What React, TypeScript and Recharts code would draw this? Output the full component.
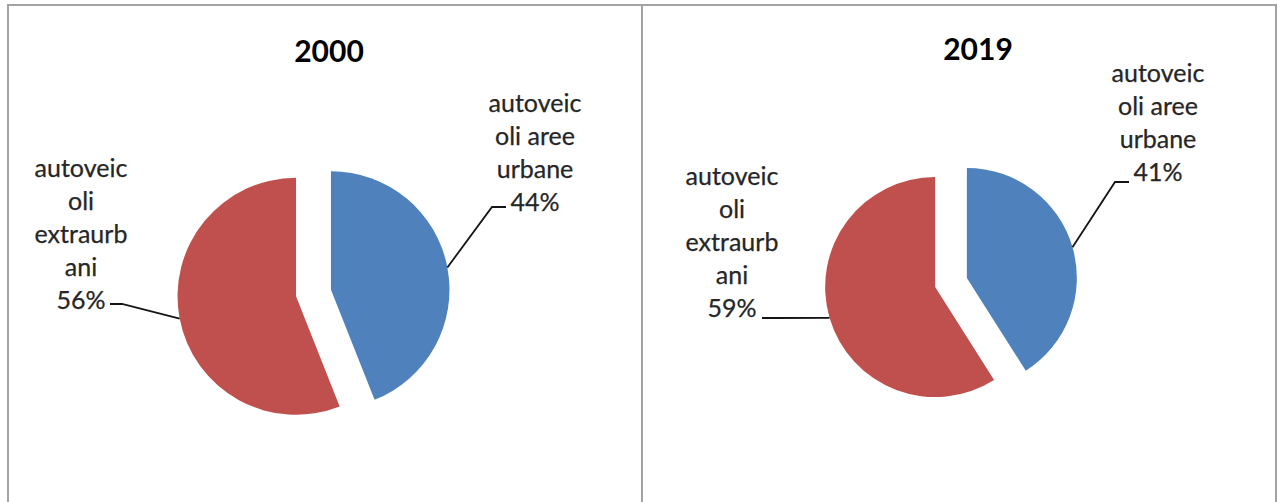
import React from 'react';
import { PieChart, Pie, Cell, Sector } from 'recharts';

// ---- data ----
const years = ['2000', '2019'];
const categories = ['autoveicoli aree urbane', 'autoveicoli extraurbani'];
const values2000 = [44, 56];
const values2019 = [41, 59];
const labelLinesUrban = ['autoveic', 'oli aree', 'urbane'];
const labelLinesExtra = ['autoveic', 'oli', 'extraurb', 'ani'];
const colors = ['#4F81BD', '#C0504D'];

// ---- layout ----
const W = 1278;
const H = 502;
const RADIAN = Math.PI / 180;
const EXPLODE = 0.15;
const FONT = 'Lato, Carlito, "Open Sans", sans-serif';
const LABEL_SIZE = 25;
const LINE_H = 33;

type Pt = { x: number; y: number };
type LabelLayout = { text: Pt; elbow: Pt; end: Pt };
type PanelLayout = { cx: number; cy: number; r: number; title: Pt; labels: LabelLayout[] };

const panels: PanelLayout[] = [
  {
    cx: 313.5,
    cy: 293,
    r: 118.5,
    title: { x: 329, y: 50 },
    labels: [
      { text: { x: 221.5, y: -191 }, elbow: { x: 178.5, y: -86 }, end: { x: 192.5, y: -86 } },
      { text: { x: -232.5, y: -126 }, elbow: { x: -191.5, y: 11 }, end: { x: -203.5, y: 11 } },
    ],
  },
  {
    cx: 951,
    cy: 282.5,
    r: 110,
    title: { x: 978, y: 48 },
    labels: [
      { text: { x: 207, y: -210.5 }, elbow: { x: 164, y: -100.5 }, end: { x: 178, y: -100.5 } },
      { text: { x: -219, y: -107.5 }, elbow: { x: -175, y: 35.5 }, end: { x: -189, y: 35.5 } },
    ],
  },
];

const seriesValues = [values2000, values2019];
const labelLines = [labelLinesUrban, labelLinesExtra];

const explodedCenter = (cx: number, cy: number, r: number, midAngle: number) => ({
  x: cx + r * EXPLODE * Math.cos(-midAngle * RADIAN),
  y: cy + r * EXPLODE * Math.sin(-midAngle * RADIAN),
});

const ExplodedSector = (props: any) => {
  const { cx, cy, outerRadius, midAngle } = props;
  const c = explodedCenter(cx, cy, outerRadius, midAngle);
  return <Sector {...props} cx={c.x} cy={c.y} stroke="none" />;
};

const makeLabel = (panel: PanelLayout) => (props: any) => {
  const { cx, cy, outerRadius, midAngle, index, value } = props;
  const lay = panel.labels[index];
  const c = explodedCenter(cx, cy, outerRadius, midAngle);
  const sx = c.x + outerRadius * Math.cos(-midAngle * RADIAN);
  const sy = c.y + outerRadius * Math.sin(-midAngle * RADIAN);
  const lines = [...labelLines[index], `${value}%`];
  const tx = cx + lay.text.x;
  const ty = cy + lay.text.y;
  const pts = `${sx},${sy} ${cx + lay.elbow.x},${cy + lay.elbow.y} ${cx + lay.end.x},${cy + lay.end.y}`;
  return (
    <g key={`lbl-${index}`}>
      <polyline points={pts} fill="none" stroke="#141414" strokeWidth={1.8} />
      <text
        x={tx}
        y={ty}
        textAnchor="middle"
        fontFamily={FONT}
        fontSize={LABEL_SIZE}
        fill="#262626"
        stroke="#262626"
        strokeWidth={0.25}
      >
        {lines.map((l, i) => (
          <tspan key={i} x={tx} y={ty + i * LINE_H} dominantBaseline="central">
            {l}
          </tspan>
        ))}
      </text>
    </g>
  );
};

export default function App() {
  return (
    <div
      style={{
        position: 'absolute',
        left: 0,
        top: 0,
        width: W,
        height: H,
        background: '#ffffff',
        overflow: 'hidden',
      }}
    >
      <div
        style={{
          position: 'absolute',
          left: 7,
          top: 4,
          width: 1266,
          height: 520,
          border: '2px solid #a3a3a3',
        }}
      />
      <div
        style={{
          position: 'absolute',
          left: 641,
          top: 4,
          width: 2,
          height: 520,
          background: '#a3a3a3',
        }}
      />
      {panels.map((p, i) => (
        <div
          key={years[i]}
          style={{
            position: 'absolute',
            left: p.title.x - 100,
            top: p.title.y - 20,
            width: 200,
            height: 40,
            lineHeight: '40px',
            textAlign: 'center',
            fontFamily: FONT,
            fontWeight: 700,
            fontSize: 30,
            color: '#000',
          }}
        >
          {years[i]}
        </div>
      ))}
      <div style={{ position: 'absolute', left: 0, top: 0 }}>
        <PieChart width={W} height={H} margin={{ top: 0, right: 0, bottom: 0, left: 0 }}>
          {panels.map((p, pi) => (
            <Pie
              key={years[pi]}
              data={categories.map((name, ci) => ({ name, value: seriesValues[pi][ci] }))}
              dataKey="value"
              nameKey="name"
              cx={p.cx}
              cy={p.cy}
              outerRadius={p.r}
              startAngle={90}
              endAngle={-270}
              stroke="none"
              isAnimationActive={false}
              shape={ExplodedSector}
              activeShape={ExplodedSector}
              inactiveShape={ExplodedSector}
              label={makeLabel(p)}
              labelLine={false}
            >
              {categories.map((c, ci) => (
                <Cell key={c} fill={colors[ci]} />
              ))}
            </Pie>
          ))}
        </PieChart>
      </div>
    </div>
  );
}
